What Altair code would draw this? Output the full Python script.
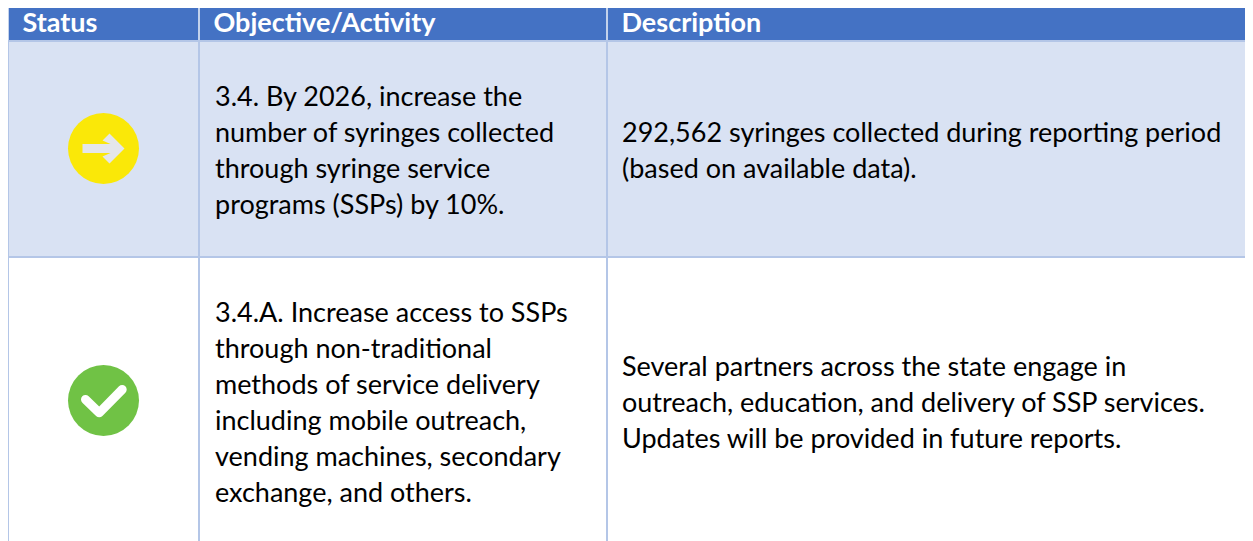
import altair as alt
import pandas as pd

FONT = "Lato"
columns = [0, 1, 2]
headers = ["Status", "Objective/Activity", "Description"]
rows = [1, 2]
statuses = ["on track", "complete"]
objectives = [
    "3.4. By 2026, increase the\nnumber of syringes collected\nthrough syringe service\nprograms (SSPs) by 10%.",
    "3.4.A. Increase access to SSPs\nthrough non-traditional\nmethods of service delivery\nincluding mobile outreach,\nvending machines, secondary\nexchange, and others.",
]
descriptions = [
    "292,562 syringes collected during reporting period\n(based on available data).",
    "Several partners across the state engage in\noutreach, education, and delivery of SSP services.\nUpdates will be provided in future reports.",
]

x_scale = alt.Scale(domain=[0, 1, 2, 3], range=[0, 191, 599, 1245], zero=False, nice=False)
y_scale = alt.Scale(domain=[0, 1, 2, 3], range=[-3, 33, 249, 537], zero=False, nice=False)
X = lambda f: alt.X(f, type="quantitative", scale=x_scale, axis=None)
Y = lambda f: alt.Y(f, type="quantitative", scale=y_scale, axis=None)

cells = pd.DataFrame({
    "x0": [0, 0], "x1": [3, 3], "y0": [0, 1], "y1": [1, 2],
    "fill": ["#4472C4", "#D9E2F3"],
})
background = alt.Chart(cells).mark_rect().encode(
    x=X("x0"), x2="x1", y=Y("y0"), y2="y1",
    color=alt.Color("fill:N", scale=None),
)

v_body = pd.DataFrame({"x": [0, 1, 2], "y0": [1, 1, 1], "y1": [3, 3, 3]})
v_rules = alt.Chart(v_body).mark_rule(color="#B4C6E7", strokeWidth=2).encode(x=X("x"), y=Y("y0"), y2="y1")
v_head = pd.DataFrame({"x": [0, 1, 2], "y0": [0, 0, 0], "y1": [1, 1, 1]})
v_head_rules = alt.Chart(v_head).mark_rule(color="#C3D2EC", strokeWidth=2).encode(x=X("x"), y=Y("y0"), y2="y1")
h_body = pd.DataFrame({"y": [1, 2], "x0": [0, 0], "x1": [3, 3]})
h_rules = alt.Chart(h_body).mark_rule(color="#B4C6E7", strokeWidth=2).encode(y=Y("y"), x=X("x0"), x2="x1")

header_df = pd.DataFrame({"x": columns, "y": [0.5] * 3, "t": headers})
header_text = alt.Chart(header_df).mark_text(
    font=FONT, fontSize=27, fontWeight="bold", color="white", align="left", baseline="middle", dx=14.5, dy=1
).encode(x=X("x"), y=Y("y"), text="t:N")


def body_cell(col, row, text, dx):
    df = pd.DataFrame({"x": [col], "y": [row + 0.5], "t": [text]})
    lines = text.count("\n")
    return alt.Chart(df).mark_text(
        font=FONT, fontSize=27, color="black", align="left", baseline="middle",
        dx=dx, dy=-18 * lines + 2.5, lineBreak="\n", lineHeight=36,
    ).encode(x=X("x"), y=Y("y"), text="t:N")


body_layers = [body_cell(1, r, t, 16) for r, t in zip(rows, objectives)] + \
              [body_cell(2, r, t, 15) for r, t in zip(rows, descriptions)]

icons = pd.DataFrame({"x": [0.5, 0.5], "y": [r + 0.5 for r in rows], "status": statuses})
discs = alt.Chart(icons).mark_point(filled=True, opacity=1, shape="circle", size=5041, yOffset=-0.5).encode(
    x=X("x"), y=Y("y"),
    color=alt.Color("status:N", scale=alt.Scale(domain=statuses, range=["#FAE808", "#70C245"]), legend=None),
)
ARROW = "M-0.21,-0.045L0.07,-0.045L-0.01,-0.08L0.06,-0.15L0.21,0L0.06,0.15L-0.01,0.08L0.07,0.045L-0.21,0.045Z"
arrow = alt.Chart(icons[icons.status == "on track"]).mark_point(
    filled=True, opacity=1, shape=ARROW, size=40000, color="#E4E6EA", yOffset=-0.5
).encode(x=X("x"), y=Y("y"))
CHECK = "M-0.18,-0.01L-0.043,0.123L0.187,-0.11"
check = alt.Chart(icons[icons.status == "complete"]).mark_point(
    filled=False, opacity=1, shape=CHECK, size=40000, color="white", strokeWidth=9,
    strokeCap="round", strokeJoin="round", yOffset=-0.5
).encode(x=X("x"), y=Y("y"))

chart = alt.layer(
    background, v_rules, v_head_rules, h_rules, header_text, *body_layers, discs, arrow, check
).properties(width=1237, height=533, padding=0, autosize=alt.AutoSizeParams(type="none")).configure_view(stroke=None)

chart.save("out.html", embed_options={"renderer": "svg", "actions": False})
